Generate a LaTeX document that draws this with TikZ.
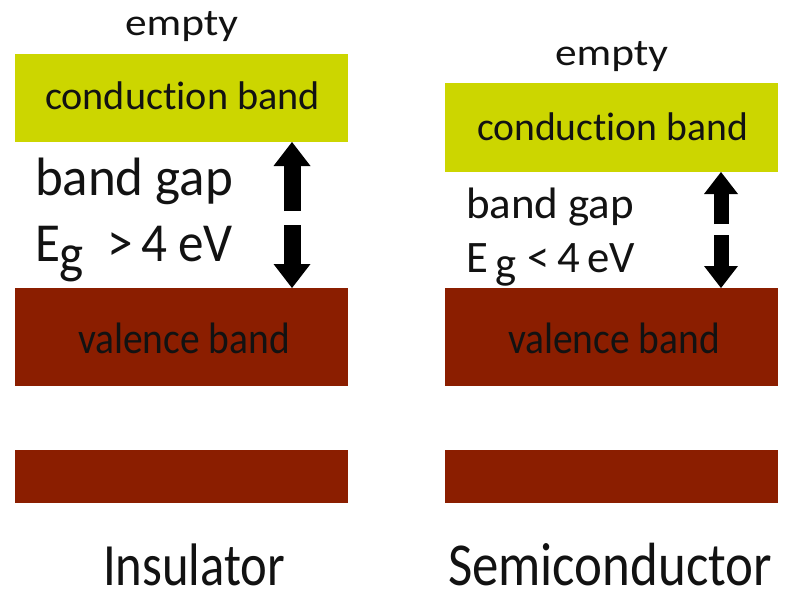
\documentclass[tikz,border=0pt]{standalone}
\usepackage{fontspec}
\setmainfont{Carlito}[Ligatures=NoCommon]
\usetikzlibrary{arrows.meta}
\definecolor{cbandcol}{RGB}{204,214,0}
\definecolor{vbandcol}{RGB}{139,30,0}
\definecolor{inkcol}{RGB}{18,18,18}
% text of a given size, stretched horizontally to a given width
\newcommand\fitw[3]{\resizebox{#1pt}{\height}{\fontsize{#2}{#2}\selectfont #3}}

\begin{document}
\begin{tikzpicture}[x=1pt,y=-1pt,
  band/.style={inner sep=0pt, outer sep=0pt, minimum width=333pt},
  cband/.style={band, fill=cbandcol},
  vband/.style={band, fill=vbandcol},
  lbl/.style={inner sep=0pt, outer sep=0pt, anchor=base west, text=inkcol},
  bigarrow/.style={line cap=butt, draw=black, line width=17pt,
    -{Triangle[length=24pt,width=37pt,line width=0pt]}},
  smallarrow/.style={line cap=butt, draw=black, line width=15pt,
    -{Triangle[length=22pt,width=34pt,line width=0pt]}}]

\path[use as bounding box, fill=white] (0,0) rectangle (789,599);

% ---- insulator ----
\node[cband, minimum height=88pt] (cbL) at (181.5,98) {};
\node[vband, minimum height=98pt]  (vbL) at (181.5,337) {};
\node[vband, minimum height=53pt]  (lbL) at (181.5,476.5) {};

\node[lbl] (emptyL) at (125,36)  {\fitw{113}{38}{empty}};
\node[lbl] (cbtL)   at (45,110)  {\fitw{275}{40}{conduction band}};
\node[lbl] (gapL)   at (35,195)  {\fitw{198}{54}{band gap}};
\node[lbl] (egL)    at (35,261)  {\fitw{198}{55}{E\raisebox{-11pt}{g}\hspace{0.45em}>\,4 eV}};
\node[lbl] (vbtL)   at (78,353)  {\fitw{212}{44}{valence band}};
\node[lbl] (insL)   at (103,585) {\fitw{182}{60}{Insulator}};

\coordinate (upL) at (292,211);
\coordinate (dnL) at (292,225);
\draw[bigarrow] (upL) -- (upL |- cbL.south);
\draw[bigarrow] (dnL) -- (dnL |- vbL.north);

% ---- semiconductor ----
\node[cband, minimum height=89pt] (cbR) at (611.5,127.5) {};
\node[vband, minimum height=98pt]  (vbR) at (611.5,337) {};
\node[vband, minimum height=53pt]  (lbR) at (611.5,476.5) {};

\node[lbl] (emptyR) at (555,66)  {\fitw{113}{38}{empty}};
\node[lbl] (cbtR)   at (477,140) {\fitw{271}{40}{conduction band}};
\node[lbl] (gapR)   at (466,218) {\fitw{168}{44}{band gap}};
\node[lbl] (egR)    at (466,272) {\fitw{169}{45}{E\,\raisebox{-6pt}{g}\hspace{0.25em}<\,4\,eV}};
\node[lbl] (vbtR)   at (508,353) {\fitw{212}{44}{valence band}};
\node[lbl] (semR)   at (448,585) {\fitw{324}{61}{Semiconductor}};

\coordinate (upR) at (721,224);
\coordinate (dnR) at (721,235);
\draw[smallarrow] (upR) -- (upR |- cbR.south);
\draw[smallarrow] (dnR) -- (dnR |- vbR.north);
\end{tikzpicture}
\end{document}
